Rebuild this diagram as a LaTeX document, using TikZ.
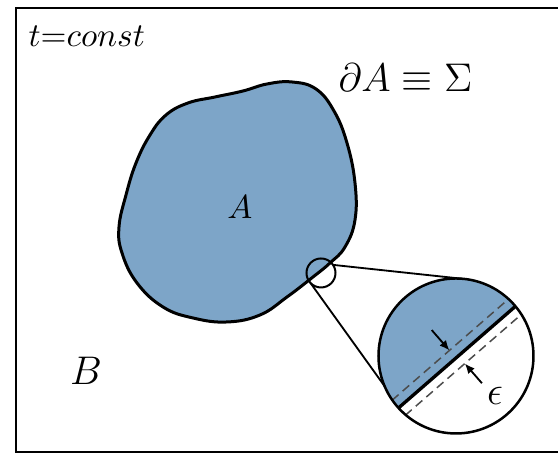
\documentclass[tikz,border=0pt]{standalone}
\usetikzlibrary{arrows.meta}
\definecolor{regionblue}{RGB}{125,165,200}

\begin{document}
\begin{tikzpicture}[x=0.3pt, y=0.3pt, >={Latex[length=3pt, width=2.6pt]},
  lens/.style={draw, circle, inner sep=0pt, outer sep=0pt},
  lbl/.style={inner sep=0pt},
  shell/.style={dashed, dash pattern=on 2.6pt off 1.6pt, line width=0.45pt, black!70}]
\useasboundingbox (0,0) rectangle (558,453);
\draw[line width=0.8pt] (16,1) rectangle (580,445);
% region A with its boundary
\draw[line width=0.9pt, fill=regionblue] plot[smooth cycle, tension=0.7] coordinates {
  (150,318) (166,338) (188,350) (215,356) (243,362) (267,369) (292,371)
  (316,364) (334,342) (347,310) (355,270) (355,233) (345,206) (330,190)
  (313,176) (287,156) (260,138) (227,131) (193,135) (163,146) (137,170)
  (122,200) (119,226) (126,258) (136,290)};
\node[lbl] (lblA) at (240,246) {$A$};
\node[lbl, font=\large] (lblB) at (86,82) {$B$};
\node[lbl, font=\large, anchor=base west] (lblsigma) at (338,361) {$\partial A\equiv\Sigma$};
\node[lbl, anchor=base west] (lbltime) at (28,406) {$t{=}const$};
% magnified piece of the boundary
\coordinate (zoomc) at (456,97);
\begin{scope}
  \clip (zoomc) circle[radius=77.5];
  \begin{scope}[shift={(456,95)}, rotate=41]
    \fill[regionblue] (-90,0) rectangle (90,90);
    \draw[shell] (-90,10) -- (90,10);
    \draw[shell] (-90,-10) -- (90,-10);
    \draw[line width=1pt] (-90,0) -- (90,0);
  \end{scope}
\end{scope}
\begin{scope}[shift={(456,95)}, rotate=41]
  \coordinate (epsin) at (0,37);
  \coordinate (epsup) at (0,10);
  \coordinate (epsout) at (3,-36);
  \coordinate (epsdown) at (3,-10);
\end{scope}
\draw[->, line width=0.55pt] (epsin) -- (epsup);
\draw[->, line width=0.55pt] (epsout) -- (epsdown);
\node[lbl, font=\large] (lbleps) at (495,57) {$\epsilon$};
\node[lens, line width=0.6pt, minimum size=8.7pt] (zoomsmall) at (321,180) {};
\node[lens, line width=0.75pt, minimum size=46.5pt] (zoombig) at (zoomc) {};
\draw[line width=0.55pt] (zoomsmall.34) -- (zoombig.86);
\draw[line width=0.55pt] (zoomsmall.223) -- (zoombig.203);
\end{tikzpicture}
\end{document}
